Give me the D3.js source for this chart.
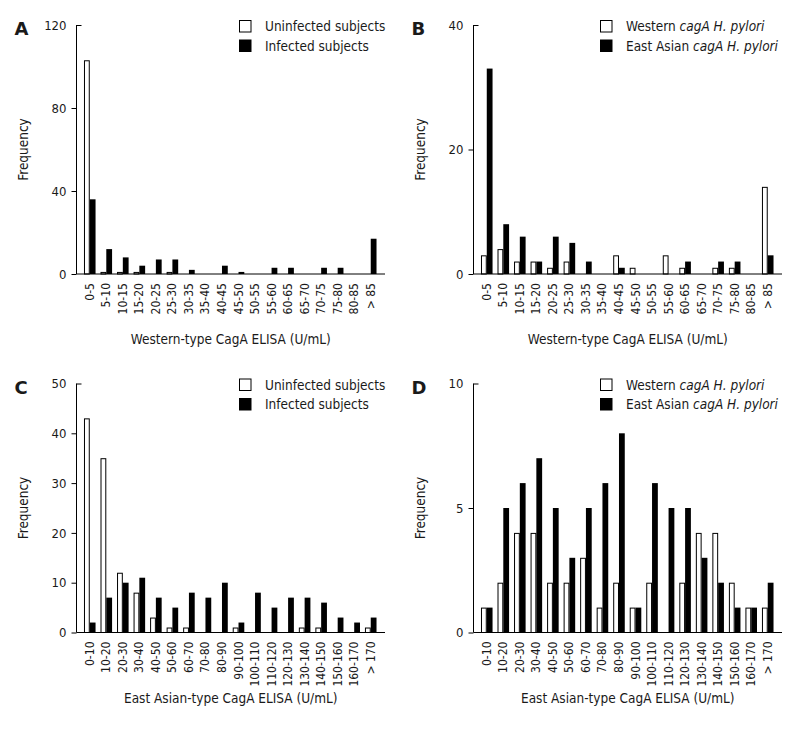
<!DOCTYPE html>
<html><head><meta charset="utf-8">
<script src="https://cdn.jsdelivr.net/npm/d3@7"></script>
<style>
html,body{margin:0;padding:0;background:#fff;}
svg{display:block;}
text{font-family:"DejaVu Sans Condensed","DejaVu Sans",sans-serif;fill:#1a1a1a;}
</style></head>
<body>
<svg id="chart" width="800" height="734"></svg>
<script>
// ---------- DATA ----------
const catsWestern = ["0-5","5-10","10-15","15-20","20-25","25-30","30-35","35-40","40-45","45-50","50-55","55-60","60-65","65-70","70-75","75-80","80-85","> 85"];
const catsEast = ["0-10","10-20","20-30","30-40","40-50","50-60","60-70","70-80","80-90","90-100","100-110","110-120","120-130","130-140","140-150","150-160","160-170","> 170"];

// Panel A: Western-type ELISA, uninfected vs infected
const aUninfected = [103,1,1,1,0,1,0,0,0,0,0,0,0,0,0,0,0,0];
const aInfected   = [36,12,8,4,7,7,2,0,4,1,0,3,3,0,3,3,0,17];
// Panel B: Western-type ELISA, Western vs East Asian cagA
const bWestern    = [3,4,2,2,1,2,0,0,3,1,0,3,1,0,1,1,0,14];
const bEastAsian  = [33,8,6,2,6,5,2,0,1,0,0,0,2,0,2,2,0,3];
// Panel C: East Asian-type ELISA, uninfected vs infected
const cUninfected = [43,35,12,8,3,1,1,0,0,1,0,0,0,1,1,0,0,1];
const cInfected   = [2,7,10,11,7,5,8,7,10,2,8,5,7,7,6,3,2,3];
// Panel D: East Asian-type ELISA, Western vs East Asian cagA
const dWestern    = [1,2,4,4,2,2,3,1,2,1,2,0,2,4,4,2,1,1];
const dEastAsian  = [1,5,6,7,5,3,5,6,8,1,6,5,5,3,2,1,1,2];

const ticksA = [0,40,80,120];
const ticksB = [0,20,40];
const ticksC = [0,10,20,30,40,50];
const ticksD = [0,5,10];

const legendInfection = ["Uninfected subjects","Infected subjects"];
const titleWestern = "Western-type CagA ELISA (U/mL)";
const titleEast = "East Asian-type CagA ELISA (U/mL)";
const yTitle = "Frequency";

// ---------- DRAW ----------
const svg = d3.select("#chart");

function panel(o){
  const g = svg.append("g");
  const y = d3.scaleLinear().domain([0, o.yMax]).range([o.bottom, o.top]);
  const x = d3.scaleBand().domain(o.cats).range([o.left + 5, o.right - 6]).paddingInner(0.3).paddingOuter(0.15);
  const xs = d3.scaleBand().domain([0,1]).range([0, x.bandwidth()]);

  // bars
  const rows = o.cats.map((c,i)=>({c, v:[o.s1[i], o.s2[i]]}));
  const grp = g.selectAll("g.cat").data(rows).join("g").attr("transform", d=>`translate(${x(d.c)},0)`);
  grp.selectAll("rect").data(d=>d.v.map((v,k)=>({v,k})).filter(e=>e.v>0)).join("rect")
    .attr("x", d=>xs(d.k) + (d.k===0?0.5:0))
    .attr("y", d=>y(d.v) + (d.k===0?0.5:0))
    .attr("width", d=>xs.bandwidth() - (d.k===0?1:0))
    .attr("height", d=>Math.max(0, o.bottom - y(d.v) - (d.k===0?0.5:0)))
    .attr("fill", d=>d.k===0?"#fff":"#000")
    .attr("stroke", d=>d.k===0?"#000":"none")
    .attr("stroke-width", 1);

  // y axis
  const ya = g.append("g").attr("transform",`translate(${o.left},0)`)
    .call(d3.axisLeft(y).tickValues(o.ticks).tickSize(5).tickSizeOuter(0).tickPadding(5));
  ya.select(".domain").remove();
  ya.selectAll(".tick line").attr("stroke","#000")
    .attr("x2", d=> d===o.yMax ? 5 : -5);
  ya.selectAll(".tick text").style("font-size","13px").attr("fill","#1a1a1a")
    .attr("x", -10);
  g.append("line").attr("x1",o.left).attr("x2",o.left).attr("y1",o.top).attr("y2",o.bottom).attr("stroke","#000");
  g.append("line").attr("x1",o.left).attr("x2",o.right).attr("y1",o.bottom).attr("y2",o.bottom).attr("stroke","#000");

  // x category labels
  g.selectAll("text.cl").data(o.cats).join("text").attr("class","cl")
    .attr("transform", d=>`translate(${x(d)+x.bandwidth()/2+4},${o.bottom+9}) rotate(-90)`)
    .attr("text-anchor","end").style("font-size","12px").text(d=>d);

  // titles
  g.append("text").attr("x",(o.left+o.right)/2).attr("y",o.bottom+70)
    .attr("text-anchor","middle").style("font-size","13.5px").text(o.xTitle);
  g.append("text").attr("transform",`translate(${o.left-49},${(o.top+o.bottom)/2}) rotate(-90)`)
    .attr("text-anchor","middle").style("font-size","13.5px").text(yTitle);
  g.append("text").attr("x",o.left-62).attr("y",o.top+10)
    .style("font-size","18px").style("font-weight","bold").style("font-family","'DejaVu Sans',sans-serif").text(o.letter);

  // legend
  o.legend.forEach((lab,i)=>{
    const ly = o.top - 5 + i*19.5;
    g.append("rect").attr("x",o.legX+0.5).attr("y",ly+0.5).attr("width",11.5).attr("height",11.5)
      .attr("fill", i===0?"#fff":"#000").attr("stroke","#000");
    const t = g.append("text").attr("x",o.legX+26).attr("y",ly+11).style("font-size","13.5px");
    lab.forEach(part=>{
      t.append("tspan").style("font-style", part.it?"italic":"normal").text(part.t);
    });
  });
}

const legInf = legendInfection.map(s=>[{t:s}]);
const legStrain = [
  [{t:"Western "},{t:"cagA H. pylori",it:true}],
  [{t:"East Asian "},{t:"cagA H. pylori",it:true}]
];

panel({letter:"A", left:76.5, right:385, top:25, bottom:274, cats:catsWestern, s1:aUninfected, s2:aInfected, yMax:120, ticks:ticksA, xTitle:titleWestern, legend:legInf, legX:239});
panel({letter:"B", left:473.5, right:782, top:25, bottom:274, cats:catsWestern, s1:bWestern, s2:bEastAsian, yMax:40, ticks:ticksB, xTitle:titleWestern, legend:legStrain, legX:600});
panel({letter:"C", left:76.5, right:385, top:383.5, bottom:632.5, cats:catsEast, s1:cUninfected, s2:cInfected, yMax:50, ticks:ticksC, xTitle:titleEast, legend:legInf, legX:239});
panel({letter:"D", left:473.5, right:782, top:383.5, bottom:632.5, cats:catsEast, s1:dWestern, s2:dEastAsian, yMax:10, ticks:ticksD, xTitle:titleEast, legend:legStrain, legX:600});
</script>
</body></html>
